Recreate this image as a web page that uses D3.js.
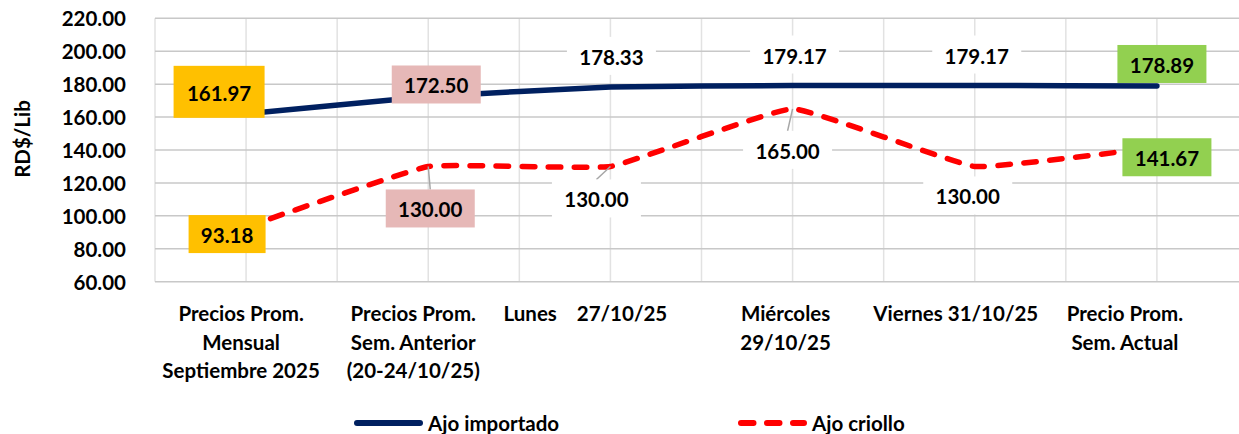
<!DOCTYPE html>
<html>
<head>
<meta charset="utf-8">
<script src="https://cdn.jsdelivr.net/npm/d3@7"></script>
<style>
  body { margin: 0; background: #fff; }
  svg { display: block; }
  text { font-family: Lato, "Open Sans", sans-serif; font-weight: bold; fill: #000; }
</style>
</head>
<body>
<svg id="chart"></svg>
<script>
// categories (one entry per line of the axis label)
const categories = [
  ['Precios Prom.', 'Mensual', 'Septiembre 2025'],
  ['Precios Prom.', 'Sem. Anterior', '(20-24/10/25)'],
  ['Lunes    27/10/25'],
  ['Miércoles', '29/10/25'],
  ['Viernes 31/10/25'],
  ['Precio Prom.', 'Sem. Actual']
];
const ajoImportado = [161.97, 172.50, 178.33, 179.17, 179.17, 178.89];
const ajoCriollo = [93.18, 130.00, 130.00, 165.00, 130.00, 141.67];
const yTicks = [60, 80, 100, 120, 140, 160, 180, 200, 220];
const seriesNames = ['Ajo importado', 'Ajo criollo'];

const width = 1239;
const height = 434;
const plot = { left: 155, right: 1248, top: 18.3, bottom: 281.7 };
const fontSize = 20.5;

// label box colours per point (null = plain white label)
const boxColors = ['#FFC000', '#E6B8B7', null, null, null, '#92D050'];
// label placement relative to the point, [dx, dy]
const blueLabelPos = [[-27, -22], [8, -12], [1, -31], [2, -31], [2, -31], [5, -22]];
const redLabelPos = [[-19, 7], [2, 42], [-14, 32], [-5, 41], [-7, 29], [10, 10]];
const redLeaders = [false, true, true, true, false, false];
const catLabelShift = [-5, -15, -25, -7, -19, -32];

const svg = d3.select('#chart').attr('width', width).attr('height', height);

const idx = d3.range(categories.length);
const x = d3.scaleBand().domain(idx).range([plot.left, plot.right]).padding(0);
const cx = i => x(i) + x.bandwidth() / 2;
const y = d3.scaleLinear().domain([60, 220]).range([plot.bottom, plot.top]);

// vertical grid lines (band edges and centres)
const grid = svg.append('g');
idx.forEach(i => {
  [x(i), cx(i)].forEach(gx => {
    grid.append('line')
      .attr('x1', gx).attr('x2', gx)
      .attr('y1', plot.top).attr('y2', plot.bottom)
      .attr('stroke', '#e2e2e2').attr('stroke-width', 1.5);
  });
});

// horizontal grid lines + y labels
yTicks.forEach(t => {
  grid.append('line')
    .attr('x1', plot.left).attr('x2', plot.right)
    .attr('y1', y(t)).attr('y2', y(t))
    .attr('stroke', '#c8c8c8').attr('stroke-width', 1.5);
  svg.append('text')
    .attr('x', 126).attr('y', y(t))
    .attr('text-anchor', 'end')
    .attr('dominant-baseline', 'central')
    .attr('font-size', fontSize)
    .text(t.toFixed(2));
});

// y axis title
svg.append('text')
  .attr('transform', 'translate(22,139) rotate(-90)')
  .attr('text-anchor', 'middle')
  .attr('dominant-baseline', 'central')
  .attr('font-size', fontSize)
  .text('RD$/Lib');

// category labels
idx.forEach(i => {
  const t = svg.append('text')
    .attr('text-anchor', 'middle')
    .attr('font-size', fontSize)
    .style('white-space', 'pre');
  categories[i].forEach((line, j) => {
    t.append('tspan')
      .attr('x', cx(i) + catLabelShift[i])
      .attr('y', 313 + j * 28.5)
      .attr('dominant-baseline', 'central')
      .text(line);
  });
});

const line = d3.line()
  .x((d, i) => cx(i))
  .y(d => y(d))
  .curve(d3.curveCardinal.tension(0.7));

svg.append('path')
  .attr('d', line(ajoImportado))
  .attr('fill', 'none')
  .attr('stroke', '#002060')
  .attr('stroke-width', 5.5)
  .attr('stroke-linecap', 'round');

svg.append('path')
  .attr('d', line(ajoCriollo))
  .attr('fill', 'none')
  .attr('stroke', '#FF0000')
  .attr('stroke-width', 5.5)
  .attr('stroke-linecap', 'round')
  .attr('stroke-dasharray', '12.5,13.5');

// data labels
function addLabel(i, value, pos, leader, isFirstBlue, isFirstRed) {
  const px = cx(i), py = y(value);
  const lx = px + pos[0], ly = py + pos[1];
  const bw = isFirstBlue ? 91 : isFirstRed ? 77 : 89;
  const bh = isFirstBlue ? 52 : 38;
  const fill = boxColors[i] || '#ffffff';
  if (leader) {
    svg.append('line')
      .attr('x1', px).attr('y1', py)
      .attr('x2', lx).attr('y2', ly - bh / 2)
      .attr('stroke', '#a6a6a6').attr('stroke-width', 1.5);
  }
  svg.append('rect')
    .attr('x', lx - bw / 2).attr('y', ly - bh / 2)
    .attr('width', bw)
    .attr('height', bh)
    .attr('fill', fill);
  svg.append('text')
    .attr('x', lx)
    .attr('y', ly + 1)
    .attr('text-anchor', 'middle')
    .attr('dominant-baseline', 'central')
    .attr('font-size', fontSize)
    .text(value.toFixed(2));
}
ajoImportado.forEach((v, i) => addLabel(i, v, blueLabelPos[i], false, i === 0, false));
ajoCriollo.forEach((v, i) => addLabel(i, v, redLabelPos[i], redLeaders[i], false, i === 0));

// legend
const legend = svg.append('g');
const legendItems = [
  { name: seriesNames[0], x: 354, color: '#002060', dash: null },
  { name: seriesNames[1], x: 738, color: '#FF0000', dash: '12.5,13.5' }
];
legendItems.forEach(d => {
  legend.append('line')
    .attr('x1', d.x + 3).attr('x2', d.x + 66)
    .attr('y1', 423).attr('y2', 423)
    .attr('stroke', d.color)
    .attr('stroke-width', 6)
    .attr('stroke-linecap', 'round')
    .attr('stroke-dasharray', d.dash);
  legend.append('text')
    .attr('x', d.x + 74).attr('y', 423)
    .attr('dominant-baseline', 'central')
    .attr('font-size', fontSize)
    .text(d.name);
});
</script>
</body>
</html>
